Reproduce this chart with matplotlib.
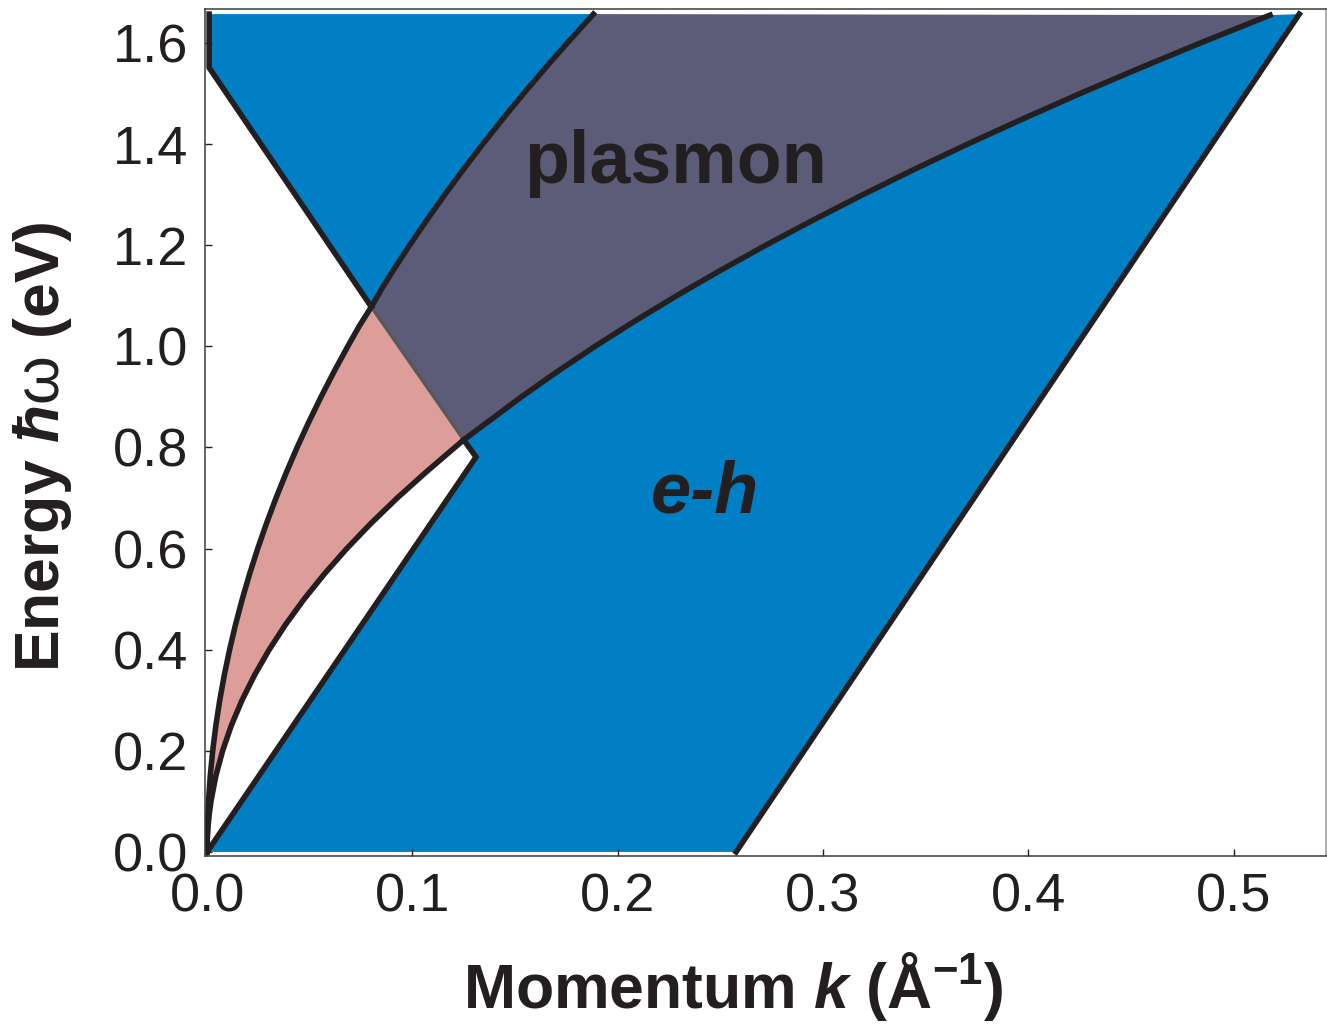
import matplotlib
matplotlib.use('Agg')
import matplotlib.pyplot as plt

# Plasmon branch boundaries (k in 1/A, energy in eV)
upper_k = [0.0, 0.00004, 0.00017, 0.00039, 0.00069, 0.00154, 0.00274, 0.00428,
           0.00617, 0.0084, 0.01097, 0.01388, 0.01714, 0.02073, 0.02467, 0.02896,
           0.03358, 0.03855, 0.04386, 0.04952, 0.05552, 0.06186, 0.06854, 0.07413,
           0.0800, 0.08598, 0.09223, 0.0987, 0.1071, 0.1158, 0.1249, 0.1343,
           0.1441, 0.1542, 0.1647, 0.1755, 0.1882]
upper_w = [0.0, 0.025, 0.05, 0.075, 0.1, 0.15, 0.2, 0.25,
           0.3, 0.35, 0.4, 0.45, 0.5, 0.55, 0.6, 0.65,
           0.7, 0.75, 0.8, 0.85, 0.9, 0.95, 1.0, 1.04,
           1.078, 1.12, 1.16, 1.2, 1.25, 1.3, 1.35, 1.4,
           1.45, 1.5, 1.55, 1.6, 1.657]

lower_k = [0.0, 0.00012, 0.00047, 0.00106, 0.00189, 0.00425, 0.00756, 0.01181,
           0.01701, 0.02316, 0.03025, 0.03828, 0.04726, 0.05718, 0.06805, 0.07987,
           0.09263, 0.10633, 0.125, 0.1366, 0.1531, 0.1706, 0.189, 0.2084,
           0.2287, 0.250, 0.2722, 0.2954, 0.3195, 0.3445, 0.3705, 0.3975,
           0.4253, 0.4542, 0.4839, 0.5178]
lower_w = [0.0, 0.025, 0.05, 0.075, 0.1, 0.15, 0.2, 0.25,
           0.3, 0.35, 0.4, 0.45, 0.5, 0.55, 0.6, 0.65,
           0.7, 0.75, 0.815, 0.85, 0.9, 0.95, 1.0, 1.05,
           1.1, 1.15, 1.2, 1.25, 1.3, 1.35, 1.4, 1.45,
           1.5, 1.55, 1.6, 1.655]

# e-h continuum edges
intra_k = [0.0, 0.131, 0.125]
intra_w = [0.0, 0.781, 0.815]
inter_k = [0.001, 0.001, 0.0800, 0.125]
inter_w = [1.657, 1.551, 1.078, 0.815]
edge_k = [0.2577, 0.532]
edge_w = [0.0, 1.657]

i_up = upper_w.index(1.078)   # upper curve meets interband line
i_lo = lower_w.index(0.815)   # lower curve meets intraband edge

blue = '#007fc5'
purple = '#5c5c78'
pink = '#dd9d99'
ink = '#231f20'

plt.rcParams['font.family'] = ['Liberation Sans', 'DejaVu Sans']
plt.rcParams['mathtext.fontset'] = 'custom'
plt.rcParams['mathtext.rm'] = 'Liberation Sans'
plt.rcParams['mathtext.it'] = 'Liberation Sans:italic:bold'
plt.rcParams['mathtext.bf'] = 'Liberation Sans:bold'

fig = plt.figure(figsize=(13.27, 10.26), dpi=100)
ax = fig.add_axes([0.1545, 0.1657, 0.8447, 0.8255])

# blue e-h regions
ax.fill(intra_k[:2] + lower_k[i_lo:] + [edge_k[1], edge_k[0]],
        intra_w[:2] + lower_w[i_lo:] + [edge_w[1], edge_w[0]],
        color=blue, lw=0, zorder=1)
ax.fill(inter_k[:3] + upper_k[i_up:], inter_w[:3] + upper_w[i_up:],
        color=blue, lw=0, zorder=1)

# plasmon region
ax.fill(upper_k[i_up:] + lower_k[i_lo:][::-1],
        upper_w[i_up:] + lower_w[i_lo:][::-1],
        color=purple, lw=0, zorder=1)

# pink region
ax.fill(upper_k[:i_up + 1] + lower_k[:i_lo + 1][::-1],
        upper_w[:i_up + 1] + lower_w[:i_lo + 1][::-1],
        color=pink, lw=0, zorder=1)

# boundary lines
lw = 4.0
ax.plot(upper_k, upper_w, color=ink, lw=lw, zorder=3)
ax.plot(lower_k, lower_w, color=ink, lw=lw, zorder=3)
ax.plot(intra_k, intra_w, color=ink, lw=lw, zorder=3, solid_joinstyle='miter')
ax.plot(inter_k[:3], inter_w[:3], color=ink, lw=lw, zorder=3, solid_joinstyle='miter')
ax.plot(inter_k[2:], inter_w[2:], color='#58585a', lw=2.4, zorder=2)
ax.plot(edge_k, edge_w, color=ink, lw=lw, zorder=3)

ax.text(0.228, 1.323, 'plasmon', fontsize=53, fontweight='bold', color=ink,
        ha='center', va='baseline', zorder=4)
ax.text(0.2426, 0.672, 'e-h', fontsize=52, fontweight='bold', style='italic',
        color=ink, ha='center', va='baseline', zorder=4)

ax.set_xlim(-0.001, 0.545)
ax.set_ylim(-0.008, 1.667)
ax.set_xticks([0.0, 0.1, 0.2, 0.3, 0.4, 0.5])
ax.set_yticks([0.0, 0.2, 0.4, 0.6, 0.8, 1.0, 1.2, 1.4, 1.6])
ax.set_xticklabels(['0.0', '0.1', '0.2', '0.3', '0.4', '0.5'])
ax.set_yticklabels(['0.0', '0.2', '0.4', '0.6', '0.8', '1.0', '1.2', '1.4', '1.6'])
ax.tick_params(direction='in', length=5, width=1, colors=ink, labelsize=39, pad=12)

for s in ax.spines.values():
    s.set_linewidth(1.1)
    s.set_color('#3a3a3a')
    s.set_zorder(5)
ax.spines['right'].set_color('#999999')

ax.set_xlabel('Momentum $k$ (Å$^{\\mathbf{-1}}$)', fontsize=45, fontweight='bold',
              color=ink, labelpad=20)
ax.set_ylabel('Energy $ħ\\mathrm{\\omega}$ (eV)', fontsize=45, fontweight='bold',
              color=ink, labelpad=28)
ax.xaxis.label.set_x(0.471)
ax.yaxis.label.set_y(0.483)

fig.savefig('out.png', dpi=100)
